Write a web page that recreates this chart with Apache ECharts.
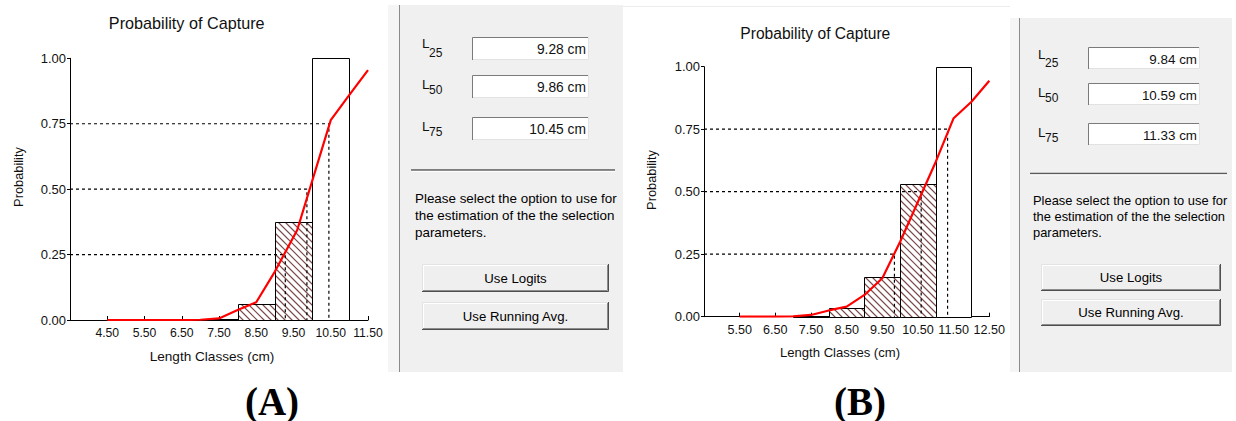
<!DOCTYPE html>
<html>
<head>
<meta charset="utf-8">
<script src="https://cdn.jsdelivr.net/npm/echarts@6/dist/echarts.min.js"></script>
<style>
  html, body { margin: 0; padding: 0; background: #ffffff; }
  #chart { width: 1236px; height: 421px; }
</style>
</head>
<body>
<div id="chart"></div>
<script>
// ---- Sample A ----
const classMidA = [7.5, 8.5, 9.5, 10.5];
const captureA = [0.005, 0.061, 0.376, 1.0];
const curveLenA = [4.5, 5.5, 6.5, 7.0, 7.5, 8.0, 8.5, 9.0, 9.6, 10.5, 11.0, 11.5];
const curveProbA = [0, 0, 0, 0.001, 0.006, 0.038, 0.068, 0.185, 0.344, 0.764, 0.86, 0.955];
const selLA = [9.28, 9.86, 10.45];
const rangeA = [3.5, 11.5];

// ---- Sample B ----
const classMidB = [7.5, 8.5, 9.5, 10.5, 11.5];
const captureB = [0.004, 0.034, 0.157, 0.531, 1.0];
const curveLenB = [5.5, 6.5, 7.0, 7.5, 8.0, 8.5, 9.0, 9.5, 10.0, 11.0, 11.5, 12.0, 12.5];
const curveProbB = [0, 0, 0.001, 0.007, 0.025, 0.04, 0.087, 0.154, 0.30, 0.62, 0.794, 0.86, 0.944];
const selLB = [9.84, 10.59, 11.33];
const rangeB = [4.5, 12.5];

const classWidth = 1;
const probLevels = [0.25, 0.5, 0.75];
const levelNames = ['25', '50', '75'];
const chartTitle = 'Probability of Capture';
const xName = 'Length Classes (cm)';
const yName = 'Probability';
const noteLines = ['Please select the option to use for', 'the estimation of the the selection', 'parameters.'];
const buttonLabels = ['Use Logits', 'Use Running Avg.'];

const FONT = '"Liberation Sans", Arial, sans-serif';
const SERIF = '"Liberation Serif", "Times New Roman", serif';
const HATCH_STEP = 7;
const HATCH_COLOR = '#7a4848';

// class bar: white box, diagonal "\" hatching for classes below full selection
function renderClassBar(params, api) {
  const mid = api.value(0), v = api.value(1);
  const tl = api.coord([mid - classWidth / 2, v]);
  const br = api.coord([mid + classWidth / 2, 0]);
  const x0 = Math.round(tl[0]) + 0.5, x1 = Math.round(br[0]) + 0.5;
  const y0 = Math.round(tl[1]) + 0.5, y1 = Math.round(br[1]) + 0.5;
  const children = [{ type: 'rect', shape: { x: x0, y: y0, width: x1 - x0, height: y1 - y0 }, style: { fill: '#fff' } }];
  if (v < 1) {
    // lines y = x - c, clipped to the box
    const cStart = Math.ceil((x0 - y1) / HATCH_STEP) * HATCH_STEP;
    for (let c = cStart; c <= x1 - y0; c += HATCH_STEP) {
      const xa = Math.max(x0, y0 + c), xb = Math.min(x1, y1 + c);
      if (xb - xa < 0.5) continue;
      children.push({
        type: 'line',
        shape: { x1: xa, y1: xa - c, x2: xb, y2: xb - c },
        style: { stroke: HATCH_COLOR, lineWidth: 1.1 }
      });
    }
  }
  children.push({ type: 'rect', shape: { x: x0, y: y0, width: x1 - x0, height: y1 - y0 }, style: { fill: null, stroke: '#000', lineWidth: 1 } });
  return { type: 'group', children: children };
}

function guideSeries(idx, Ls, xmin) {
  return Ls.map((L, i) => ({
    type: 'line', xAxisIndex: idx, yAxisIndex: idx, z: 4,
    data: [[xmin, probLevels[i]], [L, probLevels[i]], [L, 0]],
    showSymbol: false, silent: true,
    lineStyle: { color: '#000', width: 1.2, type: [3, 3] }
  }));
}

function chartSeries(idx, mids, vals, lens, probs, Ls, xmin) {
  return [
    {
      type: 'custom', xAxisIndex: idx, yAxisIndex: idx, z: 2,
      renderItem: renderClassBar,
      encode: { x: 0, y: 1 },
      data: mids.map((m, i) => [m, vals[i]])
    },
    ...guideSeries(idx, Ls, xmin),
    {
      type: 'line', xAxisIndex: idx, yAxisIndex: idx, z: 6,
      data: lens.map((x, i) => [x, probs[i]]),
      showSymbol: false, silent: true,
      lineStyle: { color: '#ff0000', width: 2.2 }
    }
  ];
}

function xAxisCfg(idx, range, size) {
  return {
    type: 'value', gridIndex: idx, min: range[0], max: range[1], interval: 1,
    axisLine: { lineStyle: { color: '#000', width: 1 } },
    axisTick: { inside: true, length: 4, lineStyle: { color: '#000' } },
    axisLabel: {
      showMinLabel: false, color: '#111', fontSize: size, fontFamily: FONT, margin: 7,
      formatter: v => v.toFixed(2)
    },
    splitLine: { show: false }
  };
}

function yAxisCfg(idx, size) {
  return {
    type: 'value', gridIndex: idx, min: 0, max: 1, interval: 0.25,
    axisLine: { show: true, lineStyle: { color: '#000', width: 1 } },
    axisTick: { show: true, length: 3, lineStyle: { color: '#000' } },
    axisLabel: {
      color: '#111', fontSize: size, fontFamily: FONT, margin: 4,
      formatter: v => v.toFixed(2)
    },
    splitLine: { show: false }
  };
}

// ---- dialog-style graphics ----
function txt(x, y, text, size, opt) {
  opt = opt || {};
  return {
    type: 'text', x: x, y: y, z: 120, rotation: opt.rotation || 0,
    style: {
      text: text, fill: opt.fill || '#111',
      font: (opt.weight || 'normal') + ' ' + size + 'px ' + (opt.family || FONT),
      align: opt.align || 'left', textAlign: opt.align || 'left',
      verticalAlign: 'middle', textVerticalAlign: 'middle'
    }
  };
}
function rect(x, y, w, h, fill) {
  return { type: 'rect', z: 100, shape: { x: x, y: y, width: w, height: h }, style: { fill: fill } };
}
function pl(points, stroke, width) {
  return { type: 'polyline', z: 110, shape: { points: points }, style: { stroke: stroke, lineWidth: width || 1, fill: null } };
}

function panel(p) {
  const els = [];
  els.push(rect(p.x, p.y, p.w, p.h, '#f0f0f0'));
  els.push(rect(p.x, p.y, p.sepX - p.x, p.h, '#f5f5f5'));
  els.push(pl([[p.sepX + 0.5, p.y], [p.sepX + 0.5, p.y + p.h]], '#8a8a8a', 1));
  // L25 / L50 / L75 fields
  p.boxY.forEach((by, i) => {
    els.push(txt(p.lX, p.lY[i], 'L', p.lSize));
    els.push(txt(p.lX + 7, p.subY[i], levelNames[i], p.subSize));
    els.push(rect(p.boxX, by, p.boxW, p.boxH, '#ffffff'));
    els.push(pl([[p.boxX + 0.5, by + p.boxH], [p.boxX + 0.5, by + 0.5], [p.boxX + p.boxW, by + 0.5]], '#7a7a7a', 1));
    els.push(pl([[p.boxX + 1, by + p.boxH - 0.5], [p.boxX + p.boxW - 0.5, by + p.boxH - 0.5], [p.boxX + p.boxW - 0.5, by]], '#e2e2e2', 1));
    els.push(txt(p.boxX + p.boxW - 3, by + p.boxH / 2 + 1, p.values[i].toFixed(2) + ' cm', p.valSize, { align: 'right' }));
  });
  els.push(pl([[p.lineX[0], p.lineY + 0.5], [p.lineX[1], p.lineY + 0.5]], '#5a5a5a', 1.4));
  els.push(pl([[p.lineX[0], p.lineY + 1.9], [p.lineX[1], p.lineY + 1.9]], '#ffffff', 1));
  noteLines.forEach((t, i) => els.push(txt(p.noteX, p.noteY[i], t, p.noteSize, { fill: '#000' })));
  p.btnY.forEach((by, i) => {
    const bx = p.btnX, bw = p.btnW, bh = p.btnH[i];
    els.push(rect(bx, by, bw, bh, '#efefef'));
    els.push(pl([[bx + 0.5, by + bh], [bx + 0.5, by + 0.5], [bx + bw, by + 0.5]], '#e3e3e3', 1));
    els.push(pl([[bx + 1.5, by + bh - 1], [bx + 1.5, by + 1.5], [bx + bw - 1, by + 1.5]], '#ffffff', 1));
    els.push(pl([[bx + 1, by + bh - 1.5], [bx + bw - 1.5, by + bh - 1.5], [bx + bw - 1.5, by + 1]], '#8c8c8c', 1));
    els.push(pl([[bx, by + bh - 0.5], [bx + bw - 0.5, by + bh - 0.5], [bx + bw - 0.5, by]], '#4e4e4e', 1));
    els.push(txt(bx + bw / 2, by + bh / 2, buttonLabels[i], 13.2, { align: 'center', fill: '#000' }));
  });
  return els;
}

const graphics = [].concat(
  panel({
    x: 388, y: 5, w: 235, h: 367, sepX: 399, values: selLA,
    lX: 422, lY: [43.5, 84, 126], subY: [52.5, 90, 132], lSize: 13.5, subSize: 12,
    boxX: 472, boxY: [37, 75, 117], boxW: 117, boxH: 23, valSize: 13.8,
    lineX: [411, 615], lineY: 169.5,
    noteX: 415, noteY: [198, 215, 232], noteSize: 13.4,
    btnX: 422, btnY: [264, 302], btnW: 187, btnH: [28, 28]
  }),
  panel({
    x: 1010, y: 18, w: 222, h: 354, sepX: 1019, values: selLB,
    lX: 1038, lY: [54.5, 92.5, 132.5], subY: [63, 98, 138], lSize: 13.5, subSize: 12,
    boxX: 1088, boxY: [47, 83, 123], boxW: 112, boxH: 22, valSize: 13.4,
    lineX: [1030, 1227], lineY: 173,
    noteX: 1033, noteY: [200, 216, 232], noteSize: 12.9,
    btnX: 1041, btnY: [264, 299], btnW: 180, btnH: [27, 27]
  }),
  [
    pl([[623, 6.5], [1010, 6.5]], '#ececec', 1),
    txt(186.7, 23, chartTitle, 16.2, { align: 'center' }),
    txt(815.3, 33, chartTitle, 15.6, { align: 'center' }),
    txt(18, 177, yName, 12.8, { align: 'center', rotation: Math.PI / 2 }),
    txt(651.5, 180, yName, 12.8, { align: 'center', rotation: Math.PI / 2 }),
    txt(212, 356, xName, 13.6, { align: 'center' }),
    txt(840, 352, xName, 13.1, { align: 'center' }),
    txt(272, 401, '(A)', 39, { align: 'center', weight: 'bold', family: SERIF, fill: '#000' }),
    txt(860, 401, '(B)', 39, { align: 'center', weight: 'bold', family: SERIF, fill: '#000' })
  ]
);

const chart = echarts.init(document.getElementById('chart'), null, { renderer: 'svg' });
chart.setOption({
  animation: false,
  backgroundColor: '#ffffff',
  grid: [
    { left: 70, top: 58.3, width: 298, height: 261.7 },
    { left: 704, top: 66.7, width: 285.3, height: 250 }
  ],
  xAxis: [xAxisCfg(0, rangeA, 12.2), xAxisCfg(1, rangeB, 12.6)],
  yAxis: [yAxisCfg(0, 13), yAxisCfg(1, 13)],
  series: [].concat(
    chartSeries(0, classMidA, captureA, curveLenA, curveProbA, selLA, rangeA[0]),
    chartSeries(1, classMidB, captureB, curveLenB, curveProbB, selLB, rangeB[0])
  ),
  graphic: { elements: graphics }
});
</script>
</body>
</html>
